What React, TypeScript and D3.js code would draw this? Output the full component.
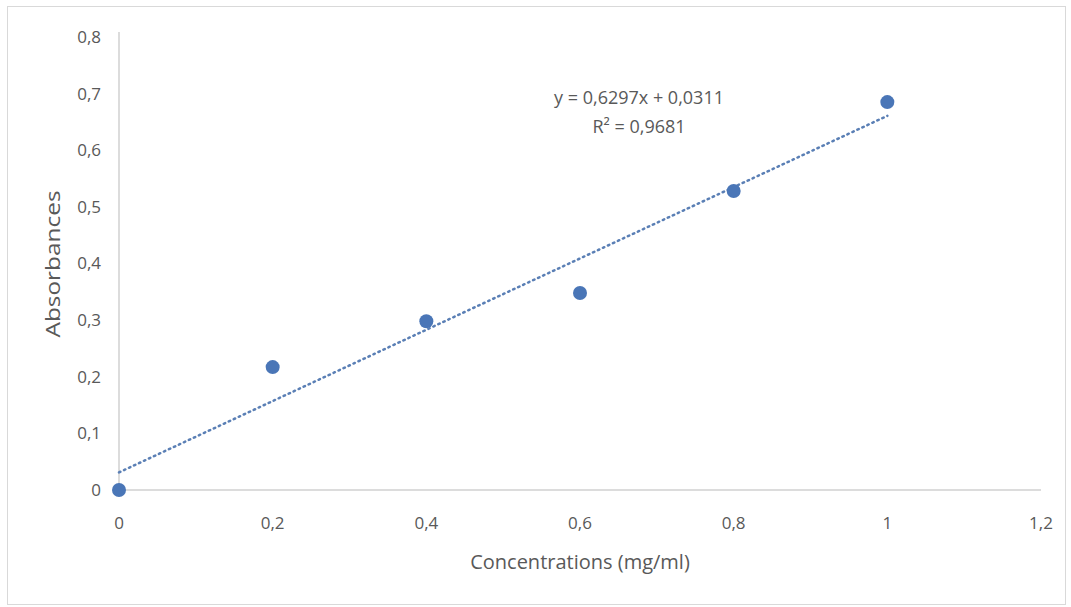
import * as d3 from "d3";
import React, { useEffect, useRef } from "react";

const concentrations = [0, 0.2, 0.4, 0.6, 0.8, 1];
const absorbances = [0, 0.217, 0.298, 0.348, 0.528, 0.685];
const xTicks = [0, 0.2, 0.4, 0.6, 0.8, 1, 1.2];
const yTicks = [0, 0.1, 0.2, 0.3, 0.4, 0.5, 0.6, 0.7, 0.8];
const slope = 0.6297;
const intercept = 0.0311;
const equationLines = ["y = 0,6297x + 0,0311", "R² = 0,9681"];

const fmt = (v: number) => String(+v.toFixed(1)).replace(".", ",");

export default function App() {
  const ref = useRef<SVGSVGElement | null>(null);

  useEffect(() => {
    const svg = d3.select(ref.current);
    svg.selectAll("*").remove();

    const width = 1071;
    const height = 607;
    const font = "'Open Sans', sans-serif";
    const textColor = "#595959";
    const pointColor = "#4a76b7";

    svg.attr("width", width).attr("height", height);

    svg
      .append("rect")
      .attr("x", 7.5)
      .attr("y", 6.5)
      .attr("width", 1058)
      .attr("height", 598)
      .attr("fill", "#fff")
      .attr("stroke", "#d9d9d9");

    const x = d3.scaleLinear().domain([0, 1.2]).range([119, 1041]);
    const y = d3.scaleLinear().domain([0, 0.8]).range([490, 37]);

    // axes lines, no gridlines
    svg
      .append("line")
      .attr("x1", x(0))
      .attr("x2", x(1.2))
      .attr("y1", y(0))
      .attr("y2", y(0))
      .attr("stroke", "#d0d0d0")
      .attr("stroke-width", 1.5);
    svg
      .append("line")
      .attr("x1", x(0))
      .attr("x2", x(0))
      .attr("y1", y(0))
      .attr("y2", y(0.8) - 5)
      .attr("stroke", "#d0d0d0")
      .attr("stroke-width", 1.5);

    svg
      .append("g")
      .selectAll("text")
      .data(yTicks)
      .enter()
      .append("text")
      .attr("x", 101)
      .attr("y", (d) => y(d))
      .attr("dy", "0.35em")
      .attr("text-anchor", "end")
      .attr("font-family", font)
      .attr("font-size", "17px")
      .attr("fill", textColor)
      .text((d) => fmt(d));

    svg
      .append("g")
      .selectAll("text")
      .data(xTicks)
      .enter()
      .append("text")
      .attr("x", (d) => x(d))
      .attr("y", 523)
      .attr("dy", "0.35em")
      .attr("text-anchor", "middle")
      .attr("font-family", font)
      .attr("font-size", "17px")
      .attr("fill", textColor)
      .text((d) => fmt(d));

    svg
      .append("text")
      .attr("x", 580)
      .attr("y", 562)
      .attr("dy", "0.35em")
      .attr("text-anchor", "middle")
      .attr("font-family", font)
      .attr("font-size", "20px")
      .attr("fill", textColor)
      .text("Concentrations (mg/ml)");

    svg
      .append("text")
      .attr("transform", "translate(53,264) rotate(-90) scale(1.22,1)")
      .attr("dy", "0.35em")
      .attr("text-anchor", "middle")
      .attr("font-family", font)
      .attr("font-size", "20px")
      .attr("fill", textColor)
      .text("Absorbances");

    // linear trendline
    const line = d3
      .line<number>()
      .x((d) => x(d))
      .y((d) => y(slope * d + intercept));
    svg
      .append("path")
      .attr("d", line([0, 1]))
      .attr("fill", "none")
      .attr("stroke", "#5a7fb5")
      .attr("stroke-width", 2.5)
      .attr("stroke-dasharray", "1.5,4")
      .attr("stroke-linecap", "round");

    svg
      .append("g")
      .selectAll("circle")
      .data(concentrations)
      .enter()
      .append("circle")
      .attr("cx", (d) => x(d))
      .attr("cy", (_, i) => y(absorbances[i]))
      .attr("r", 7)
      .attr("fill", pointColor);

    svg
      .append("g")
      .selectAll("text")
      .data(equationLines)
      .enter()
      .append("text")
      .attr("x", 639)
      .attr("y", (_, i) => 98 + i * 29)
      .attr("dy", "0.35em")
      .attr("text-anchor", "middle")
      .attr("font-family", font)
      .attr("font-size", "18px")
      .attr("fill", textColor)
      .text((d) => d);
  }, []);

  return <svg ref={ref} style={{ position: "absolute", left: 0, top: 0 }} />;
}
